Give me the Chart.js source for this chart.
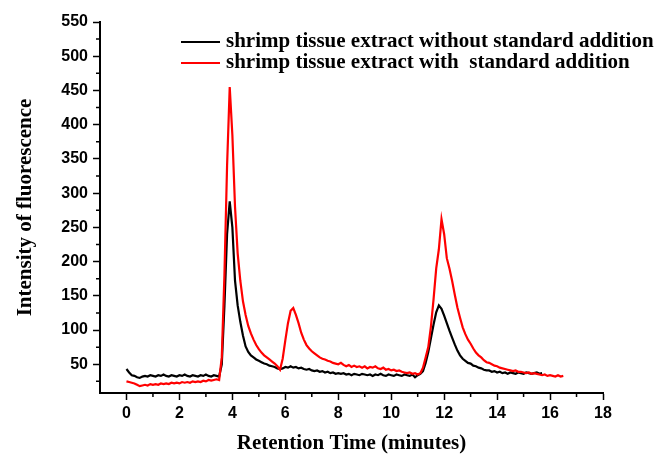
<!DOCTYPE html>
<html>
<head>
<meta charset="utf-8">
<script src="https://cdn.jsdelivr.net/npm/chart.js@4.4.1/dist/chart.umd.min.js"></script>
<style>
  body { margin: 0; background: #fff; }
  #wrap { position: relative; width: 658px; height: 454px; }
  #legend {
    position: absolute; left: 181px; top: 30px;
    font: bold 21px "Liberation Serif", serif; line-height: 20.6px;
    color: #000; white-space: pre;
  }
  #legend .line { display: inline-block; width: 39px; height: 2px; vertical-align: middle; margin-right: 6px; }
</style>
</head>
<body>
<div id="wrap">
  <canvas id="chart" width="658" height="454"></canvas>
  <div id="legend"></div>
</div>
<script>
// Chromatogram, every 0.1 min
const retentionTime = [
  0.0, 0.1, 0.2, 0.3, 0.4, 0.5, 0.6, 0.7, 0.8, 0.9,
  1.0, 1.1, 1.2, 1.3, 1.4, 1.5, 1.6, 1.7, 1.8, 1.9,
  2.0, 2.1, 2.2, 2.3, 2.4, 2.5, 2.6, 2.7, 2.8, 2.9,
  3.0, 3.1, 3.2, 3.3, 3.4, 3.5, 3.6, 3.7, 3.8, 3.9,
  4.0, 4.1, 4.2, 4.3, 4.4, 4.5, 4.6, 4.7, 4.8, 4.9,
  5.0, 5.1, 5.2, 5.3, 5.4, 5.5, 5.6, 5.7, 5.8, 5.9,
  6.0, 6.1, 6.2, 6.3, 6.4, 6.5, 6.6, 6.7, 6.8, 6.9,
  7.0, 7.1, 7.2, 7.3, 7.4, 7.5, 7.6, 7.7, 7.8, 7.9,
  8.0, 8.1, 8.2, 8.3, 8.4, 8.5, 8.6, 8.7, 8.8, 8.9,
  9.0, 9.1, 9.2, 9.3, 9.4, 9.5, 9.6, 9.7, 9.8, 9.9,
  10.0, 10.1, 10.2, 10.3, 10.4, 10.5, 10.6, 10.7, 10.8, 10.9,
  11.0, 11.1, 11.2, 11.3, 11.4, 11.5, 11.6, 11.7, 11.8, 11.9,
  12.0, 12.1, 12.2, 12.3, 12.4, 12.5, 12.6, 12.7, 12.8, 12.9,
  13.0, 13.1, 13.2, 13.3, 13.4, 13.5, 13.6, 13.7, 13.8, 13.9,
  14.0, 14.1, 14.2, 14.3, 14.4, 14.5, 14.6, 14.7, 14.8, 14.9,
  15.0, 15.1, 15.2, 15.3, 15.4, 15.5, 15.6, 15.7, 15.8, 15.9,
  16.0, 16.1, 16.2, 16.3, 16.4, 16.5
]

// without standard addition (ends at 15.7 min)
const withoutAddition = [
  43, 38, 34, 33, 31, 30, 32, 33, 32, 34,
  33, 32, 34, 33, 35, 33, 32, 34, 33, 32,
  34, 33, 35, 33, 32, 34, 33, 32, 34, 33,
  35, 33, 32, 34, 33, 32, 50, 135, 240, 288,
  250, 172, 136, 112, 92, 76, 68, 63, 60, 57,
  55, 53, 51, 50, 48, 47, 46, 44, 43, 44,
  46, 45, 47, 45, 46, 44, 45, 43, 42, 43,
  41, 40, 41, 39, 40, 38, 39, 37, 38, 36,
  37, 36, 37, 35, 36, 34, 36, 35, 34, 36,
  35, 34, 35, 33, 35, 34, 36, 34, 33, 35,
  34, 33, 35, 34, 33, 35, 34, 33, 35, 31,
  34, 36, 40, 52, 68, 88, 108, 126, 136, 131,
  121, 110, 99, 89, 79, 70, 63, 58, 55, 52,
  51, 48, 47, 45, 44, 42, 41, 41, 39, 40,
  38, 39, 37, 38, 36, 38, 37, 36, 38, 37,
  36, 38, 37, 36, 37, 38, 36, 37
]

// with standard addition (ends at 16.5 min)
const withAddition = [
  25, 24, 23, 22, 20, 18, 19, 20, 19, 21,
  20, 21, 20, 22, 21, 22, 21, 23, 22, 23,
  22, 24, 23, 24, 23, 25, 24, 25, 24, 26,
  25, 27, 26, 27, 28, 27, 60, 180, 340, 455,
  385, 280, 212, 172, 142, 122, 106, 95, 86, 78,
  72, 67, 63, 60, 57, 54, 51, 47, 42, 58,
  85, 110, 128, 132, 122, 110, 96, 86, 78, 73,
  69, 66, 63, 60, 58, 57, 55, 54, 52, 51,
  50, 52, 49, 47, 49, 46, 48, 46, 47, 45,
  47, 44, 46, 45, 47, 44, 43, 45, 42, 43,
  41, 42, 40, 41, 39, 38, 37, 38, 36, 37,
  35, 37, 45, 60, 75, 105, 145, 190, 218, 262,
  240, 205, 190, 172, 152, 133, 118, 104, 94, 86,
  80, 73, 67, 63, 60, 56, 53, 52, 50, 48,
  47, 45, 44, 43, 42, 41, 40, 41, 39, 39,
  38, 37, 38, 36, 37, 36, 35, 34, 35, 33,
  34, 33, 32, 34, 32, 33
]

const seriesLabels = [
  'shrimp tissue extract without standard addition',
  'shrimp tissue extract with  standard addition'
]
const seriesColors = ['#000000', '#ff0000']

const xTickValues = [0, 2, 4, 6, 8, 10, 12, 14, 16, 18]
const xMinorTicks = [1, 3, 5, 7, 9, 11, 13, 15, 17]
const yTickValues = [50, 100, 150, 200, 250, 300, 350, 400, 450, 500, 550]
const yMinorTicks = [25, 75, 125, 175, 225, 275, 325, 375, 425, 475, 525]

const toPoints = vals => vals.map((v, i) => ({ x: retentionTime[i], y: v }))

// short outward minor ticks between the labelled ones
const minorTicks = {
  id: 'minorTicks',
  afterDraw (chart) {
    const { ctx, scales: { x, y } } = chart
    ctx.save()
    ctx.strokeStyle = '#000'
    ctx.lineWidth = 1.5
    ctx.beginPath()
    xMinorTicks.forEach(v => {
      const px = x.getPixelForValue(v)
      ctx.moveTo(px, x.top)
      ctx.lineTo(px, x.top + 4)
    })
    yMinorTicks.forEach(v => {
      const py = y.getPixelForValue(v)
      ctx.moveTo(y.right, py)
      ctx.lineTo(y.right - 4, py)
    })
    ctx.stroke()
    ctx.restore()
  }
}

const tickFont = { family: '"Liberation Sans", Arial, sans-serif', size: 16, weight: 'bold' }
const titleFont = { family: '"Liberation Serif", "Times New Roman", serif', size: 21, weight: 'bold', lineHeight: 1 }

new Chart(document.getElementById('chart'), {
  type: 'line',
  data: {
    datasets: [
      {
        label: seriesLabels[0],
        data: toPoints(withoutAddition),
        borderColor: seriesColors[0],
        borderWidth: 2.2,
        pointRadius: 0,
        tension: 0,
        order: 1
      },
      {
        label: seriesLabels[1],
        data: toPoints(withAddition),
        borderColor: seriesColors[1],
        borderWidth: 2.2,
        pointRadius: 0,
        tension: 0,
        order: 0
      }
    ]
  },
  options: {
    responsive: false,
    animation: false,
    devicePixelRatio: 1,
    layout: { padding: { left: 0, right: 55, top: 22, bottom: 0 } },
    plugins: { legend: { display: false }, tooltip: { enabled: false } },
    scales: {
      x: {
        type: 'linear',
        min: -1,
        max: 18,
        afterBuildTicks: axis => { axis.ticks = xTickValues.map(v => ({ value: v })) },
        afterFit: axis => { axis.height = 61 },
        border: { color: '#000', width: 2 },
        grid: { drawOnChartArea: false, tickLength: 7, tickColor: '#000', tickWidth: 1.5 },
        ticks: { color: '#000', font: tickFont, padding: 4, maxRotation: 0 },
        title: {
          display: true,
          text: 'Retention Time (minutes)',
          color: '#000',
          font: titleFont,
          padding: { top: 0, bottom: 0 }
        }
      },
      y: {
        min: 8,
        max: 550,
        afterBuildTicks: axis => { axis.ticks = yTickValues.map(v => ({ value: v })) },
        afterFit: axis => { axis.width = 100 },
        border: { color: '#000', width: 2 },
        grid: { drawOnChartArea: false, tickLength: 7, tickColor: '#000', tickWidth: 1.5 },
        ticks: { color: '#000', font: tickFont, padding: 5 },
        title: {
          display: true,
          text: 'Intensity of fluorescence',
          color: '#000',
          font: titleFont,
          padding: { top: 15, bottom: 0 }
        }
      }
    }
  },
  plugins: [minorTicks]
})

// legend drawn as plain text rows inside the plot, like the figure
document.getElementById('legend').innerHTML = seriesLabels.map((lbl, i) =>
  `<div><span class="line" style="background:${seriesColors[i]}"></span>${lbl}</div>`
).join('')
</script>
</body>
</html>
